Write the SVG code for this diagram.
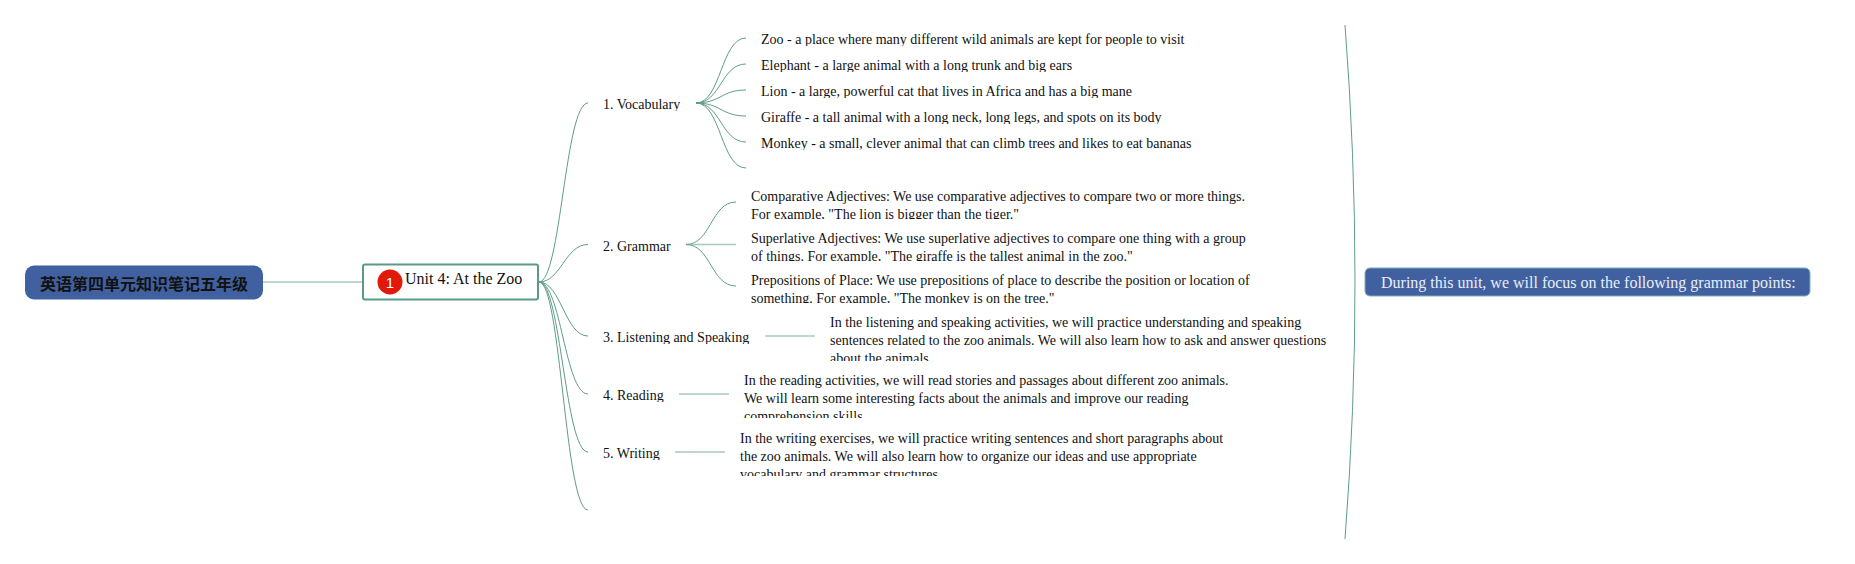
<svg xmlns="http://www.w3.org/2000/svg" width="1855" height="564" viewBox="0 0 1855 564">
<style>
text{font-family:"Liberation Serif","Noto Sans CJK SC",serif;font-size:14px;fill:#111}
.c{fill:none;stroke:#5f9c8a;stroke-width:1}
.t{fill:none;stroke:#a9c8c0;stroke-width:1.6}
</style>
<defs>
<clipPath id="v1"><rect x="740" y="25" width="480" height="21"/></clipPath>
<clipPath id="v2"><rect x="740" y="51" width="480" height="21"/></clipPath>
<clipPath id="v3"><rect x="740" y="77" width="480" height="21"/></clipPath>
<clipPath id="v4"><rect x="740" y="103" width="480" height="21"/></clipPath>
<clipPath id="v5"><rect x="740" y="129" width="480" height="21"/></clipPath>
<clipPath id="g1"><rect x="740" y="184" width="520" height="35"/></clipPath>
<clipPath id="g2"><rect x="740" y="226" width="520" height="35"/></clipPath>
<clipPath id="g3"><rect x="740" y="268" width="520" height="35"/></clipPath>
<clipPath id="l"><rect x="820" y="310" width="520" height="51"/></clipPath>
<clipPath id="r"><rect x="735" y="368" width="520" height="50"/></clipPath>
<clipPath id="w"><rect x="730" y="426" width="520" height="50"/></clipPath>
<clipPath id="b1"><rect x="595" y="90" width="100" height="21"/></clipPath>
<clipPath id="b3"><rect x="595" y="323" width="170" height="21"/></clipPath>
<clipPath id="b4"><rect x="595" y="381" width="80" height="21"/></clipPath>
<clipPath id="b5"><rect x="595" y="439" width="80" height="21"/></clipPath>
</defs>
<g id="connectors">
<path class="t" d="M263 282H363"/>
<path class="c" d="M539 282C561 282 565 103 588 103"/>
<path class="c" d="M539 282C561 282 565 244.500 588 244.500"/>
<path class="c" d="M539 282C561 282 565 336 588 336"/>
<path class="c" d="M539 282C561 282 565 394 588 394"/>
<path class="c" d="M539 282C561 282 565 452 588 452"/>
<path class="c" d="M539 282C561 282 565 510 588 510"/>
<path class="c" d="M696 103C721 103 721 38 746 38"/>
<path class="c" d="M696 103C721 103 721 64 746 64"/>
<path class="c" d="M696 103C721 103 721 90 746 90"/>
<path class="c" d="M696 103C721 103 721 116 746 116"/>
<path class="c" d="M696 103C721 103 721 142 746 142"/>
<path class="c" d="M696 103C721 103 721 168 746 168"/>
<path class="c" d="M686 244.500C711 244.500 711 202 736 202"/>
<path class="t" d="M686 244.500H736"/>
<path class="c" d="M686 244.500C711 244.500 711 286 736 286"/>
<path class="t" d="M765 336H815"/>
<path class="t" d="M679 394H729"/>
<path class="t" d="M675 452H725"/>
<path class="c" d="M1345 25Q1365 282 1345 539"/>
</g>
<g id="root"><rect x="25" y="265.500" width="238" height="34" rx="9" fill="#4060a0"/><text x="40" y="289.500" style="font-size:16px;font-weight:bold">英语第四单元知识笔记五年级</text></g>
<g id="unit"><rect x="363" y="264.500" width="175" height="35" rx="2" fill="#fff" stroke="#5c9a88" stroke-width="2"/><circle cx="390" cy="282" r="12.500" fill="#e0190a"/><text x="390" y="288" text-anchor="middle" style="font-family:'Liberation Sans',sans-serif;font-size:15px;fill:#fff">1</text><text x="405" y="284" style="font-size:16px">Unit 4: At the Zoo</text></g>
<g id="summary"><rect x="1365" y="268" width="445" height="28" rx="5" fill="#4060a0" stroke="#7fb0b0"/><text x="1381" y="287.500" style="font-size:16px;fill:#e8eef8">During this unit, we will focus on the following grammar points:</text></g>
<g id="b-vocab"><text x="603" y="109" clip-path="url(#b1)">1. Vocabulary</text></g>
<g id="b-grammar"><text x="603" y="250.500">2. Grammar</text></g>
<g id="b-listen"><text x="603" y="342" clip-path="url(#b3)">3. Listening and Speaking</text></g>
<g id="b-read"><text x="603" y="400" clip-path="url(#b4)">4. Reading</text></g>
<g id="b-write"><text x="603" y="458" clip-path="url(#b5)">5. Writing</text></g>
<g id="v-zoo"><text x="761" y="44" clip-path="url(#v1)">Zoo - a place where many different wild animals are kept for people to visit</text></g>
<g id="v-elephant"><text x="761" y="70" clip-path="url(#v2)">Elephant - a large animal with a long trunk and big ears</text></g>
<g id="v-lion"><text x="761" y="96" clip-path="url(#v3)">Lion - a large, powerful cat that lives in Africa and has a big mane</text></g>
<g id="v-giraffe"><text x="761" y="122" clip-path="url(#v4)">Giraffe - a tall animal with a long neck, long legs, and spots on its body</text></g>
<g id="v-monkey"><text x="761" y="148" clip-path="url(#v5)">Monkey - a small, clever animal that can climb trees and likes to eat bananas</text></g>
<g id="g-comp"><g clip-path="url(#g1)"><text x="751" y="201">Comparative Adjectives: We use comparative adjectives to compare two or more things.</text><text x="751" y="219">For example, "The lion is bigger than the tiger."</text></g></g>
<g id="g-sup"><g clip-path="url(#g2)"><text x="751" y="242.500">Superlative Adjectives: We use superlative adjectives to compare one thing with a group</text><text x="751" y="260.500">of things. For example, "The giraffe is the tallest animal in the zoo."</text></g></g>
<g id="g-prep"><g clip-path="url(#g3)"><text x="751" y="284.500">Prepositions of Place: We use prepositions of place to describe the position or location of</text><text x="751" y="302.500">something. For example, "The monkey is on the tree."</text></g></g>
<g id="d-listen"><g clip-path="url(#l)"><text x="830" y="326.500">In the listening and speaking activities, we will practice understanding and speaking</text><text x="830" y="344.500">sentences related to the zoo animals. We will also learn how to ask and answer questions</text><text x="830" y="362.500">about the animals.</text></g></g>
<g id="d-read"><g clip-path="url(#r)"><text x="744" y="385">In the reading activities, we will read stories and passages about different zoo animals.</text><text x="744" y="403">We will learn some interesting facts about the animals and improve our reading</text><text x="744" y="421">comprehension skills.</text></g></g>
<g id="d-write"><g clip-path="url(#w)"><text x="740" y="443">In the writing exercises, we will practice writing sentences and short paragraphs about</text><text x="740" y="461">the zoo animals. We will also learn how to organize our ideas and use appropriate</text><text x="740" y="479">vocabulary and grammar structures.</text></g></g>
</svg>
